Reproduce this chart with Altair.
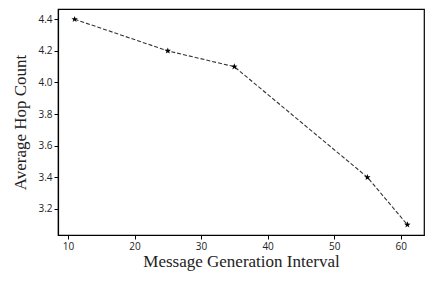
import altair as alt
import pandas as pd

interval = [11, 25, 35, 55, 61]
hops = [4.4, 4.2, 4.1, 3.4, 3.1]
df = pd.DataFrame({"interval": interval, "hops": hops})

star = "M0,-1L0.24,-0.33L0.95,-0.31L0.39,0.13L0.59,0.81L0,0.4L-0.59,0.81L-0.39,0.13L-0.95,-0.31L-0.24,-0.33Z"

x = alt.X("interval:Q", scale=alt.Scale(domain=[8.5, 63.5], nice=False, zero=False),
          axis=alt.Axis(values=[10, 20, 30, 40, 50, 60], title="Message Generation Interval",
                        grid=False, titlePadding=2))
y = alt.Y("hops:Q", scale=alt.Scale(domain=[3.035, 4.465], nice=False, zero=False),
          axis=alt.Axis(values=[3.2, 3.4, 3.6, 3.8, 4.0, 4.2, 4.4], format=".1f",
                        title="Average Hop Count", grid=False, titlePadding=8))

line = alt.Chart(df).mark_line(color="#333333", strokeWidth=1.1, strokeDash=[4, 2]).encode(x=x, y=y)
pts = alt.Chart(df).mark_point(shape=star, filled=True, color="black", size=45, opacity=1).encode(x=x, y=y)

chart = (line + pts).properties(
    width=366, height=226,
    autosize=alt.AutoSizeParams(type="none"),
    padding={"left": 50, "top": 1, "right": 2, "bottom": 40},
).configure_view(stroke="black", strokeWidth=1.2).configure_axis(
    labelFont="Open Sans", labelFontSize=10, labelColor="#222222",
    tickColor="black", tickSize=4, domainColor="black", domainWidth=1.2,
    titleFont="Liberation Serif", titleFontSize=17, titleFontWeight="normal", titleColor="#222222",
    labelPadding=2,
)

chart.save("out.html", embed_options={"renderer": "svg", "actions": False})
